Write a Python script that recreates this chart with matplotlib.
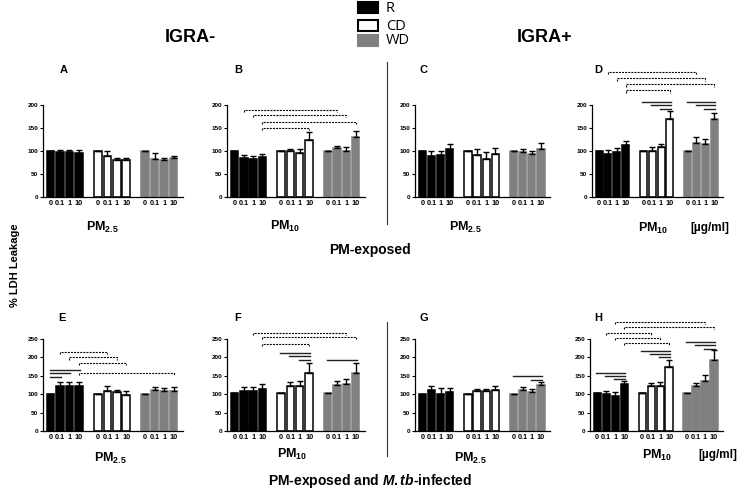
import numpy as np
import matplotlib.pyplot as plt
from matplotlib.patches import Rectangle
from matplotlib.lines import Line2D

plt.rcParams["font.family"] = "Liberation Sans"
plt.rcParams["mathtext.fontset"] = "custom"
plt.rcParams["mathtext.rm"] = "Liberation Sans:bold"
plt.rcParams["mathtext.it"] = "Liberation Sans:italic:bold"
plt.rcParams["mathtext.bf"] = "Liberation Sans:bold"
plt.rcParams["mathtext.default"] = "rm"

# Data: 12 bars per panel -> R (0, 0.1, 1, 10), CD (...), WD (...)
conc_labels = ["0", "0.1", "1", "10"]
groups = ["R", "CD", "WD"]

# PM-exposed, IGRA-
a_mean = [100, 98, 98, 96, 100, 89, 80, 81, 100, 82, 80, 85]
a_err = [0, 5, 4, 6, 0, 10, 5, 4, 0, 13, 5, 4]
b_mean = [101, 84, 83, 88, 101, 101, 95, 124, 101, 106, 101, 130]
b_err = [0, 8, 7, 6, 0, 4, 10, 18, 0, 5, 7, 14]
# PM-exposed, IGRA+
c_mean = [101, 90, 92, 105, 101, 91, 83, 94, 101, 98, 93, 105]
c_err = [0, 11, 9, 10, 0, 14, 15, 13, 0, 7, 7, 13]
d_mean = [101, 93, 97, 113, 101, 100, 108, 170, 101, 117, 116, 169]
d_err = [0, 10, 9, 9, 0, 8, 8, 18, 0, 13, 10, 14]
# PM-exposed and M.tb-infected, IGRA-
e_mean = [101, 123, 123, 123, 101, 108, 105, 99, 101, 112, 110, 109]
e_err = [0, 10, 10, 10, 0, 13, 7, 11, 0, 7, 7, 10]
f_mean = [103, 109, 109, 114, 103, 123, 123, 158, 103, 126, 128, 158]
f_err = [0, 11, 11, 15, 0, 10, 12, 28, 0, 11, 12, 28]
# PM-exposed and M.tb-infected, IGRA+
g_mean = [101, 112, 101, 106, 101, 108, 108, 112, 101, 112, 106, 126]
g_err = [0, 9, 17, 12, 0, 7, 7, 9, 0, 8, 7, 8]
h_mean = [103, 101, 94, 128, 103, 121, 123, 174, 103, 121, 137, 193]
h_err = [0, 9, 11, 9, 0, 9, 10, 19, 0, 9, 14, 28]

# significance marks: pairs of bar indices
b_dashed = [(1, 9), (2, 10), (3, 11), (3, 7)]
d_dashed = [(1, 9), (2, 10), (3, 11), (3, 7)]
d_solid = [(4, 7), (5, 7), (6, 7), (8, 11), (9, 11), (10, 11)]
e_dashed = [(1, 5), (2, 6), (3, 7), (3, 11)]
e_solid = [(0, 3), (0, 2), (0, 1)]
f_dashed = [(2, 10), (3, 11), (3, 7)]
f_solid = [(4, 7), (5, 7), (6, 7), (8, 11)]
g_solid = [(8, 11), (10, 11)]
h_dashed = [(2, 10), (3, 11), (1, 5), (2, 6), (3, 7)]
h_solid = [(0, 3), (1, 3), (2, 3), (4, 7), (5, 7), (6, 7), (8, 11), (9, 11), (10, 11)]

W, H = 740, 493
fig = plt.figure(figsize=(W / 100, H / 100), dpi=100)


def fx(px):
    return px / W


def fy(py):
    return 1 - py / H


xpos = np.array([g * 5 + i for g in range(3) for i in range(4)], dtype=float)
bar_colors = ["black"] * 4 + ["white"] * 4 + ["#808080"] * 4
edge_colors = ["black"] * 4 + ["black"] * 4 + ["#808080"] * 4


def panel(x0, x1, row, mean, err, dashed=(), dashed_y=(), solid=(), solid_y=()):
    if row == 0:
        bot, top, ymax = 197, 105, 200
    else:
        bot, top, ymax = 431, 339, 250
    ax = fig.add_axes([fx(x0), fy(bot), fx(x1) - fx(x0), (bot - top) / H])
    ax.bar(xpos, mean, width=0.8, color=bar_colors, edgecolor=edge_colors,
           linewidth=1.1, zorder=2)
    err = np.array(err)
    ax.errorbar(xpos, mean, yerr=[np.zeros_like(err), err], fmt="none",
                ecolor="black", elinewidth=1.0, capsize=2.2, capthick=1.0, zorder=3)
    ax.set_xlim(-0.8, 14.0)
    ax.set_ylim(0, ymax)
    ax.set_yticks(np.arange(0, ymax + 1, 50))
    ax.set_xticks(xpos)
    ax.set_xticklabels(conc_labels * 3, fontsize=5.2, fontweight="bold")
    ax.tick_params(axis="x", length=0, pad=2)
    ax.tick_params(axis="y", length=2.5, width=0.8, labelsize=4.6, pad=1)
    for lab in ax.get_yticklabels():
        lab.set_fontweight("bold")
    for s in ["top", "right"]:
        ax.spines[s].set_visible(False)
    for s in ["left", "bottom"]:
        ax.spines[s].set_linewidth(0.9)
    tick = ymax * 0.025
    for (i, j), yy in zip(dashed, dashed_y):
        xs = [xpos[i], xpos[i], xpos[j], xpos[j]]
        ys = [yy - tick, yy, yy, yy - tick]
        ax.plot(xs, ys, color="black", lw=0.8, ls=(0, (1.8, 1.0)),
                clip_on=False, zorder=4)
    for (i, j), yy in zip(solid, solid_y):
        ax.plot([xpos[i] - 0.1, xpos[j] + 0.1], [yy, yy], color="#222222",
                lw=1.0, clip_on=False, zorder=4)
    return ax


panel(43, 183, 0, a_mean, a_err)
panel(227, 365, 0, b_mean, b_err, b_dashed, [189, 178, 164, 150])
panel(415, 550, 0, c_mean, c_err)
panel(592, 723, 0, d_mean, d_err, d_dashed, [272, 258, 245, 232],
      d_solid, [207, 200, 191, 207, 200, 191])
panel(43, 183, 1, e_mean, e_err, e_dashed, [216, 200, 186, 158],
      e_solid, [167, 158, 147])
panel(227, 365, 1, f_mean, f_err, f_dashed, [266, 255, 236],
      f_solid, [212, 203, 194, 193])
panel(415, 550, 1, g_mean, g_err, (), (), g_solid, [150, 139])
panel(590, 723, 1, h_mean, h_err, h_dashed, [296, 283, 266, 253, 239],
      h_solid, [158, 149, 142, 218, 210, 202, 243, 234, 224])

# panel letters
for letter, x, y in [("A", 64, 70), ("B", 238, 70), ("C", 424, 70), ("D", 598, 70),
                     ("E", 62, 318), ("F", 238, 318), ("G", 424, 318), ("H", 598, 318)]:
    fig.text(fx(x), fy(y), letter, fontsize=8, fontweight="bold", ha="center", va="center")

# x-axis group labels
for txt, x, y in [("PM$_{2.5}$", 102, 227), ("PM$_{10}$", 285, 226), ("PM$_{2.5}$", 465, 227),
                  ("PM$_{10}$", 653, 228), ("PM$_{2.5}$", 110, 458), ("PM$_{10}$", 292, 454),
                  ("PM$_{2.5}$", 470, 458), ("PM$_{10}$", 657, 455)]:
    fig.text(fx(x), fy(y), txt, fontsize=9, fontweight="bold", ha="center", va="center")
fig.text(fx(710), fy(228), "[µg/ml]", fontsize=8.5, fontweight="bold", ha="center", va="center")
fig.text(fx(718), fy(455), "[µg/ml]", fontsize=8.5, fontweight="bold", ha="center", va="center")

# headers and titles
fig.text(fx(190), fy(38), "IGRA-", fontsize=13, fontweight="bold", ha="center", va="center")
fig.text(fx(545), fy(38), "IGRA+", fontsize=13, fontweight="bold", ha="center", va="center")
fig.text(fx(370), fy(250), "PM-exposed", fontsize=10, fontweight="bold", ha="center", va="center")
fig.text(fx(370), fy(481), "PM-exposed and $\\mathit{M.tb}$-infected", fontsize=10,
         fontweight="bold", ha="center", va="center")
fig.text(fx(15), fy(265), "% LDH Leakage", fontsize=8, fontweight="bold", rotation=90,
         ha="center", va="center")

# legend
for (name, fc, ec), ytop in zip([("R", "black", "black"), ("CD", "white", "black"),
                                  ("WD", "#808080", "#808080")], [2, 20, 35]):
    fig.add_artist(Rectangle((fx(358), fy(ytop + 11)), fx(378) - fx(358), 11 / H,
                             facecolor=fc, edgecolor=ec, linewidth=1.5,
                             transform=fig.transFigure))
    fig.text(fx(386), fy(ytop + 6), name, fontsize=10.5, family="Open Sans",
             ha="left", va="center")

# vertical separators
fig.add_artist(Line2D([fx(387), fx(387)], [fy(62), fy(224)], color="#333333", lw=0.8))
fig.add_artist(Line2D([fx(387), fx(387)], [fy(322), fy(456)], color="#333333", lw=0.8))

fig.savefig("out.png", dpi=100)
